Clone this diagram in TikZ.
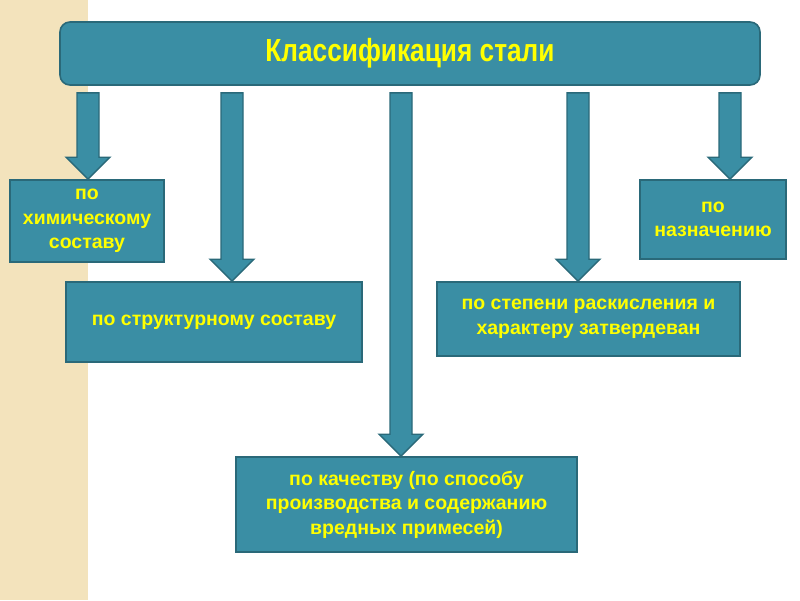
\documentclass[tikz,border=0pt]{standalone}
\usepackage{fontspec}
\setmainfont{Liberation Sans}
\newfontfamily\narrowfont[FakeStretch=0.82]{Liberation Sans}
\usetikzlibrary{calc}
\definecolor{boxfill}{HTML}{3A8EA4}
\definecolor{boxline}{HTML}{2A6979}
\definecolor{txt}{HTML}{FFFF00}
\definecolor{beige}{HTML}{F3E3BC}
\tikzset{
  box/.style={draw=boxline, line width=1.6pt, fill=boxfill, text=txt, align=center, inner sep=0pt, font=\bfseries\fontsize{19.5}{24.5}\selectfont},
  titlebox/.style={box, rounded corners=10pt, font=\narrowfont\bfseries\fontsize{32}{36}\selectfont},
  fatarrow/.style={draw=boxline, line width=1.4pt, fill=boxfill, line join=miter}
}
\newcommand\fatarrow[3]{%
  \draw[fatarrow] let \p1=(#2.south), \p2=(#3.north) in
  (#1pt-11pt,\y1-7pt) -- (#1pt+11pt,\y1-7pt) -- (#1pt+11pt,\y2+22pt) -- (#1pt+22pt,\y2+22pt)
  -- (#1pt,\y2) -- (#1pt-22pt,\y2+22pt) -- (#1pt-11pt,\y2+22pt) -- cycle;}
\begin{document}
\begin{tikzpicture}[x=1pt,y=-1pt]
\useasboundingbox (0,0) rectangle (800,600);
\fill[white] (0,0) rectangle (800,600);
\fill[beige] (0,0) rectangle (88,600);
\node[titlebox, minimum width=700pt, minimum height=63pt] (title) at (410,53.5) {\raisebox{-2pt}{Классификация стали}};
\node[box, minimum width=154pt, minimum height=82pt] (chem) at (87,221) {по\\химическому\\составу};
\node[box, minimum width=296pt, minimum height=80pt] (struct) at (214,322) {по структурному составу};
\node[box, minimum width=303pt, minimum height=74pt] (deox) at (588.5,319) {по степени раскисления и\\характеру затвердеван};
\node[box, minimum width=146pt, minimum height=79pt] (purp) at (713,219.5) {по\\назначению};
\node[box, minimum width=341pt, minimum height=95pt] (qual) at (406.5,504.5) {по качеству (по способу\\производства и содержанию\\вредных примесей)};
\fatarrow{88}{title}{chem}
\fatarrow{232}{title}{struct}
\fatarrow{401}{title}{qual}
\fatarrow{578}{title}{deox}
\fatarrow{730}{title}{purp}
\end{tikzpicture}
\end{document}
